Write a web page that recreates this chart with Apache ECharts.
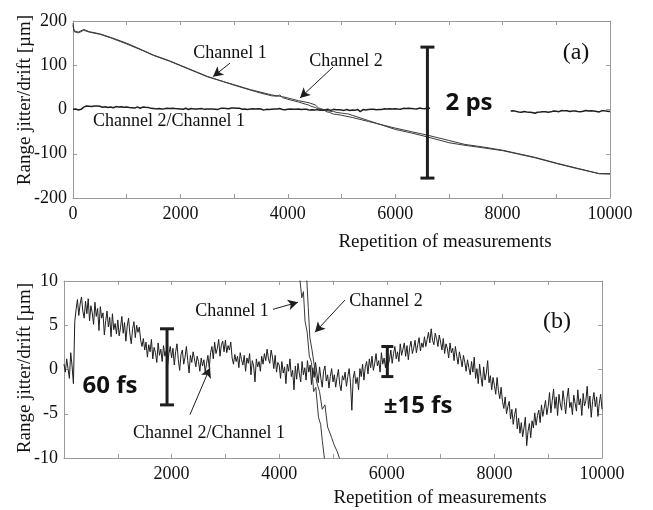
<!DOCTYPE html>
<html><head><meta charset="utf-8">
<script src="https://cdn.jsdelivr.net/npm/echarts@6/dist/echarts.min.js"></script>
<style>html,body{margin:0;padding:0;background:#fff}#c{width:653px;height:510px}</style>
</head><body><div id="c"></div><script>
// ---------- data ----------
const xTickLabels = [0, 2000, 4000, 6000, 8000, 10000];
const yTicksTop = [-200, -100, 0, 100, 200];
const yTicksBottom = [-10, -5, 0, 5, 10];

// Channel 1 drift [repetition, µm]
const channel1 = [[0,195],[20,178],[100,175],[200,181],[300,176],[500,171],[700,163],[1000,150],[1300,134],[1500,123],[1800,110],[2000,100],[2300,85],[2500,75],[2800,63],[3000,55],[3300,44],[3500,37],[3700,31],[3800,30],[3850,33],[3900,27],[4000,23],[4200,17],[4330,12],[4380,10.5],[4420,8.1],[4450,8.8],[4480,5.5],[4520,4.2],[4560,1.5],[4600,0.8],[4640,-2.5],[4680,-2.0],[4730,-5.4],[4770,-6.2],[4800,-8.0],[4850,-10.5],[4900,-11],[5000,-13],[5200,-18],[5500,-27],[6000,-42],[6300,-50],[6600,-58],[7000,-70],[7300,-79],[7600,-84],[8000,-92],[8300,-100],[8600,-108],[9000,-121],[9400,-133],[9800,-145],[10000,-145]];
// Channel 2 drift [repetition, µm]
const channel2 = [[0,190],[20,176],[100,173],[200,179],[300,175],[500,170],[700,162],[1000,148],[1300,133],[1500,122],[1800,109],[2000,99],[2300,84],[2500,74],[2800,63],[3000,56],[3300,45],[3500,39],[3700,33],[3800,31],[3900,29],[4000,26],[4200,20],[4400,15],[4510,10.5],[4540,7],[4570,3.6],[4610,2.2],[4665,-0.1],[4700,-1.5],[4750,-2.5],[4800,-4.5],[4850,-4.0],[4900,-6.5],[4975,-7.7],[5020,-8.5],[5080,-9.3],[5130,-10.2],[5200,-13],[5500,-25],[6000,-45],[6300,-53],[6600,-62],[7000,-75],[7300,-81],[7600,-86],[8000,-93],[8300,-101],[8600,-109],[9000,-122],[9400,-134],[9800,-145],[10000,-146]];
// Channel 2 / Channel 1, sampled every 25 repetitions from 0 to 10000 (20 values = 500 repetitions per row)
const ratioStep = 25;
const ratioValues = [
 0.6,-0.3,1.2,0.1,-1.0,1.9,0.4,-1.6,5.4,6.8,7.9,6.1,7.4,8.2,6.6,5.8,7.7,6.3,8.0,5.5,
 7.2,6.4,5.1,7.6,6.0,6.9,4.4,7.1,5.8,6.4,3.9,5.5,6.6,4.8,5.9,3.7,6.3,4.5,5.2,4.0,
 5.6,3.8,4.7,6.0,4.1,5.3,3.2,4.9,5.8,4.0,2.9,4.6,5.4,3.6,5.0,4.2,4.8,3.3,2.6,3.5,
 2.2,3.1,1.4,2.8,2.0,3.4,1.2,2.5,1.9,0.8,3.0,1.6,2.3,0.9,2.7,1.5,2.1,0.4,1.8,2.6,
 1.3,2.4,0.5,2.0,2.9,1.1,-0.1,1.7,2.2,0.6,1.4,2.6,1.0,-0.4,1.6,0.8,2.0,1.2,0.3,1.5,
 0.9,-0.2,1.3,0.4,1.1,-0.3,0.7,1.6,0.2,1.9,2.6,1.2,3.1,1.8,2.4,3.4,1.5,2.8,3.2,2.0,
 3.3,1.9,2.7,2.2,3.1,1.3,0.6,1.7,0.9,1.5,0.2,1.9,1.1,0.5,1.6,-0.2,1.3,0.7,1.8,-0.6,
 1.0,0.4,-1.4,1.2,0.3,0.9,-0.2,1.5,0.6,1.8,1.0,2.3,1.2,0.7,2.2,1.4,0.1,1.6,-0.3,0.8,
 0.5,-1.0,0.9,-0.4,0.3,-1.6,0.6,-0.2,1.2,-0.8,-0.1,-2.3,0.4,-1.1,0.7,-0.5,-1.4,0.9,-0.6,0.2,
 -1.2,1.0,-0.3,0.5,-1.7,0.2,-0.9,0.8,-0.4,-1.5,0.3,-1.0,-2.0,-0.2,0.4,-1.3,-0.6,-2.1,-0.8,0.1,
 -1.4,-0.6,-2.0,-0.9,0.0,-1.7,-2.4,-0.7,-1.2,-0.3,-1.9,-0.8,0.1,-1.5,-4.6,-1.0,-0.2,-1.6,-0.9,-2.3,
 0.1,-0.8,0.6,-1.2,0.3,0.9,-0.5,1.2,0.2,1.5,-0.1,0.7,1.8,0.4,1.0,-0.3,1.9,0.6,1.3,0.2,
 1.6,0.5,1.1,2.2,0.7,1.8,2.6,1.2,2.0,0.9,2.9,1.6,2.3,3.0,1.5,2.7,1.1,2.5,3.2,1.8,
 2.4,3.3,1.9,2.8,3.6,2.1,3.0,2.5,3.7,2.6,3.4,4.2,3.0,4.6,3.3,2.8,4.1,3.5,2.6,3.9,
 3.1,2.2,3.5,1.8,2.9,2.4,1.3,3.0,1.9,2.4,1.0,2.6,1.5,0.6,2.0,1.2,0.3,1.6,0.8,-0.2,
 1.1,0.2,-0.6,0.9,-0.3,1.4,-1.0,0.1,-1.6,0.6,-0.8,-1.9,0.3,-1.2,-0.4,1.0,-1.5,-0.7,-2.3,-0.9,
 -1.8,-2.8,-0.9,-2.4,-3.3,-2.0,-3.6,-4.4,-3.1,-5.0,-4.2,-3.6,-5.6,-4.5,-6.2,-5.1,-4.4,-6.7,-5.5,-7.2,
 -6.0,-7.6,-6.6,-5.4,-8.6,-7.0,-6.1,-7.7,-5.8,-6.6,-4.9,-6.3,-5.2,-4.6,-6.0,-4.0,-5.3,-4.4,-3.5,-5.1,
 -4.2,-2.6,-4.9,-3.5,-2.2,-4.4,-3.1,-5.2,-2.8,-3.9,-4.6,-2.4,-3.6,-5.0,-3.2,-2.1,-4.3,-3.7,-5.1,-2.9,
 -3.8,-4.7,-2.3,-4.0,-3.3,-5.2,-2.7,-4.1,-3.5,-1.9,-4.4,-3.0,-5.4,-3.6,-2.6,-4.2,-3.1,-5.3,-3.8,-2.8,
 -4.5];
// part of the ratio trace hidden behind the "2 ps" label in panel (a)
const topGapFrom = 6650, topGapTo = 8150;

// error bars [x, low, high]
const errorBarTop = [[6600, -155, 141]];
const errorBar60fs = [[1915, -4.0, 4.6]];
const errorBar15fs = [[6010, -0.8, 2.6]];

// annotation arrows [[fromX, fromY], [toX, toY]] in data units
const arrowsTop = [[[2924,105],[2607,74]], [[4842,96],[4227,26]]];
const arrowsBottom = [[[3885,6.8],[4349,7.6]], [[5223,7.85],[4665,4.2]], [[2342,-5.1],[2714,0.2]]];

// ---------- chart ----------
const serif = "'Liberation Serif','Times New Roman',serif";
const sans = "'Open Sans','Liberation Sans',sans-serif";
const grey = '#9a9a9a';
const ink = '#1e1e1e';

const ratioPairs = ratioValues.map((v, i) => [i * ratioStep, v]);
const ratioTop = ratioPairs.map(p => (p[0] > topGapFrom && p[0] < topGapTo) ? [p[0], null] : p);

function xAxes(gridIndex, hideZero) {
  const base = {type:'value', gridIndex, min:0, max:10000, interval:1000,
    axisLine:{show:true, onZero:false, lineStyle:{color:grey, width:1}},
    axisTick:{show:true, inside:true, length:4, lineStyle:{color:grey}},
    splitLine:{show:false}};
  return [
    Object.assign({}, base, {position:'bottom', axisLabel:{color:'#111', fontFamily:serif, fontSize:18, margin:7,
      formatter: v => (xTickLabels.indexOf(v) >= 0 && !(hideZero && v === 0)) ? String(v) : ''}}),
    Object.assign({}, base, {position:'top', axisLabel:{show:false}})
  ];
}
function yAxes(gridIndex, ticks) {
  const base = {type:'value', gridIndex, min:ticks[0], max:ticks[ticks.length-1], interval:ticks[1]-ticks[0],
    axisLine:{show:true, onZero:false, lineStyle:{color:grey, width:1}},
    axisTick:{show:true, inside:true, length:4, lineStyle:{color:grey}},
    splitLine:{show:false}};
  return [
    Object.assign({}, base, {position:'left', axisLabel:{color:'#111', fontFamily:serif, fontSize:18, margin:6}}),
    Object.assign({}, base, {position:'right', axisLabel:{show:false}})
  ];
}
function errRender(capHalf) {
  return function (params, api) {
    const x = api.value(0), lo = api.value(1), hi = api.value(2);
    const a = api.coord([x, hi]), b = api.coord([x, lo]);
    const st = {stroke: ink, lineWidth: 3};
    return {type:'group', children:[
      {type:'line', shape:{x1:a[0], y1:a[1], x2:b[0], y2:b[1]}, style:st},
      {type:'line', shape:{x1:a[0]-capHalf, y1:a[1], x2:a[0]+capHalf, y2:a[1]}, style:st},
      {type:'line', shape:{x1:b[0]-capHalf, y1:b[1], x2:b[0]+capHalf, y2:b[1]}, style:st}
    ]};
  };
}
function arrowMarks(list) {
  return {silent:true, symbol:['none','arrow'], symbolSize:[8,10], precision:4,
    lineStyle:{color:ink, width:1, type:'solid'}, label:{show:false}, emphasis:{disabled:true},
    data: list.map(a => [{coord:a[0]}, {coord:a[1]}])};
}
function lineSeries(xi, yi, data, width, color, extra) {
  return Object.assign({type:'line', xAxisIndex:xi, yAxisIndex:yi, data, showSymbol:false, symbol:'none',
    lineStyle:{color, width}, connectNulls:false, clip:true, silent:true, z:2}, extra || {});
}

const chart = echarts.init(document.getElementById('c'), null, {renderer:'canvas'});
chart.setOption({
  animation:false,
  backgroundColor:'#fff',
  grid:[
    {left:73, right:43, top:21, bottom:312, containLabel:false},
    {left:64, right:51, top:281, bottom:52, containLabel:false}
  ],
  xAxis:[].concat(xAxes(0, false), xAxes(1, true)),
  yAxis:[].concat(yAxes(0, yTicksTop), yAxes(1, yTicksBottom)),
  series:[
    lineSeries(0, 0, channel1, 1, '#3a3a3a', {markLine: arrowMarks(arrowsTop)}),
    lineSeries(0, 0, channel2, 1, '#3a3a3a'),
    lineSeries(0, 0, ratioTop, 1.5, ink),
    {type:'custom', xAxisIndex:0, yAxisIndex:0, data:errorBarTop, renderItem:errRender(7), encode:{x:0, y:[1,2]}, clip:false, silent:true, z:3},
    lineSeries(2, 2, channel1, 1, '#3a3a3a', {markLine: arrowMarks(arrowsBottom)}),
    lineSeries(2, 2, channel2, 1, '#3a3a3a'),
    lineSeries(2, 2, ratioPairs, 1, ink),
    {type:'custom', xAxisIndex:2, yAxisIndex:2, data:errorBar60fs, renderItem:errRender(7), encode:{x:0, y:[1,2]}, clip:false, silent:true, z:3},
    {type:'custom', xAxisIndex:2, yAxisIndex:2, data:errorBar15fs, renderItem:errRender(6), encode:{x:0, y:[1,2]}, clip:false, silent:true, z:3}
  ],
  graphic:[
    {type:'text', x:25, y:100, rotation:Math.PI/2, style:{text:'Range jitter/drift [µm]', font:'19px '+serif, fill:'#111', align:'center', verticalAlign:'middle'}},
    {type:'text', x:25, y:368, rotation:Math.PI/2, style:{text:'Range jitter/drift [µm]', font:'19px '+serif, fill:'#111', align:'center', verticalAlign:'middle'}},
    {type:'text', x:445, y:242, style:{text:'Repetition of measurements', font:'19px '+serif, fill:'#111', align:'center', verticalAlign:'middle'}},
    {type:'text', x:440, y:498, style:{text:'Repetition of measurements', font:'19px '+serif, fill:'#111', align:'center', verticalAlign:'middle'}},
    {type:'text', x:230, y:53, style:{text:'Channel 1', font:'18px '+serif, fill:'#111', align:'center', verticalAlign:'middle'}},
    {type:'text', x:346, y:61, style:{text:'Channel 2', font:'18px '+serif, fill:'#111', align:'center', verticalAlign:'middle'}},
    {type:'text', x:169, y:121, style:{text:'Channel 2/Channel 1', font:'18px '+serif, fill:'#111', align:'center', verticalAlign:'middle'}},
    {type:'text', x:576, y:53, style:{text:'(a)', font:'24px '+serif, fill:'#111', align:'center', verticalAlign:'middle'}},
    {type:'text', x:469, y:103, style:{text:'2 ps', font:'bold 24px '+sans, fill:'#111', align:'center', verticalAlign:'middle'}},
    {type:'text', x:232, y:311, style:{text:'Channel 1', font:'18px '+serif, fill:'#111', align:'center', verticalAlign:'middle'}},
    {type:'text', x:386, y:301, style:{text:'Channel 2', font:'18px '+serif, fill:'#111', align:'center', verticalAlign:'middle'}},
    {type:'text', x:209, y:433, style:{text:'Channel 2/Channel 1', font:'18px '+serif, fill:'#111', align:'center', verticalAlign:'middle'}},
    {type:'text', x:557, y:322, style:{text:'(b)', font:'24px '+serif, fill:'#111', align:'center', verticalAlign:'middle'}},
    {type:'text', x:110, y:386, style:{text:'60 fs', font:'bold 24px '+sans, fill:'#111', align:'center', verticalAlign:'middle'}},
    {type:'text', x:418, y:406, style:{text:'±15 fs', font:'bold 24px '+sans, fill:'#111', align:'center', verticalAlign:'middle'}}
  ]
});
</script></body></html>
